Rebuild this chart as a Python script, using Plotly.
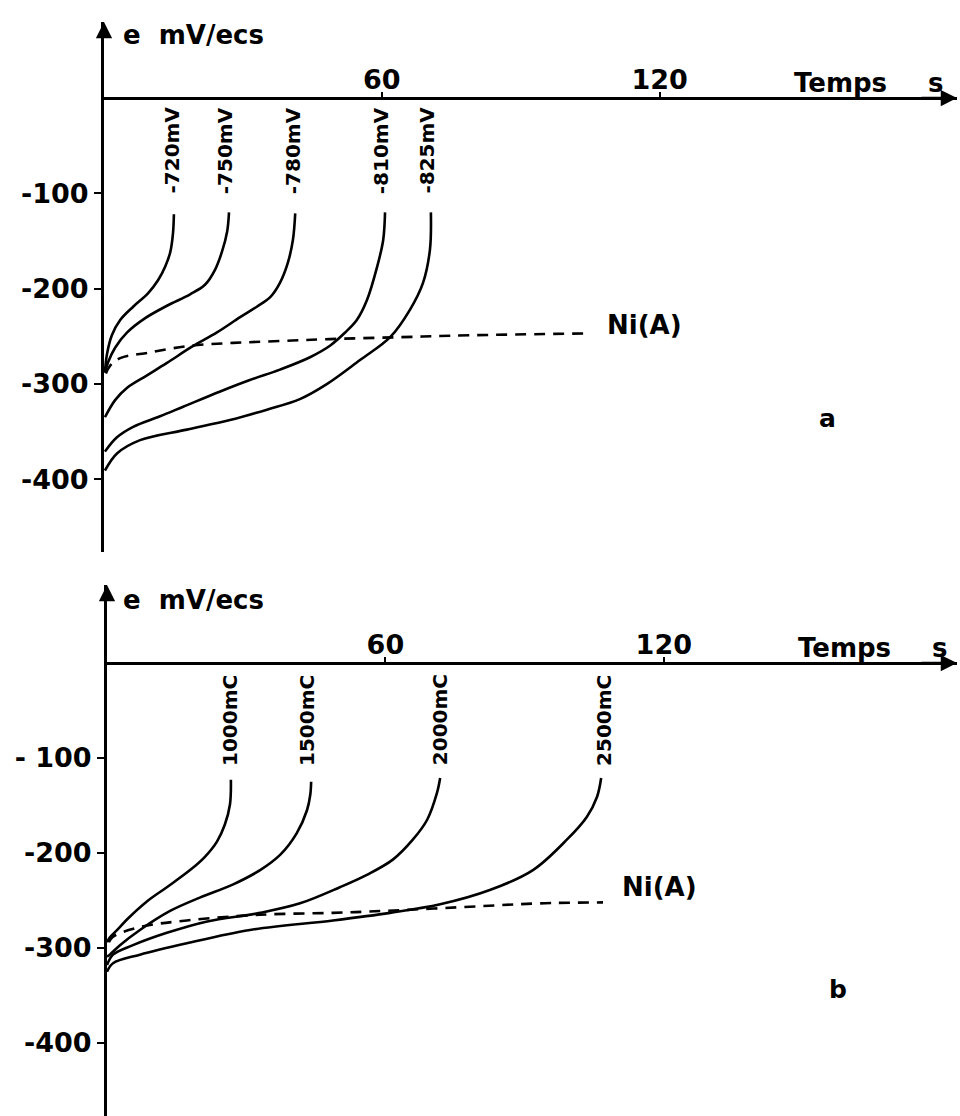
import plotly.graph_objects as go

W, H = 960, 1116

# ---------------- Data: panel a (potentiostatic, mV) ----------------
t_720 = [0.2, 0.6, 1.7, 3.5, 6.3, 9.5, 11.7, 13.2, 14.3, 14.9, 15.1]
e_720 = [-288, -270, -249, -233, -219, -205, -191, -177, -162, -142, -122]

t_750 = [0.2, 0.9, 2.4, 5.0, 8.9, 13.6, 18.6, 21.8, 24.0, 25.5, 26.6, 27.0]
e_750 = [-288, -277, -262, -246, -231, -218, -206, -196, -180, -161, -140, -120]

t_780 = [0.2, 2.4, 5.0, 9.3, 13.6, 19.0, 24.4, 29.4, 33.0, 35.9, 38.0, 39.7, 40.8, 41.3]
e_780 = [-335, -317, -304, -291, -278, -261, -246, -230, -219, -209, -194, -173, -149, -121]

t_810 = [0.2, 2.8, 6.3, 12.1, 17.1, 25.1, 31.5, 38.0, 44.5, 48.8, 52.1, 54.6, 56.8, 59.0, 60.3, 60.7]
e_810 = [-371, -356, -345, -334, -324, -308, -296, -285, -272, -260, -246, -233, -212, -177, -149, -120]

t_825 = [0.2, 2.8, 7.8, 17.9, 27.2, 35.2, 42.3, 48.2, 55.3, 61.8, 66.1, 68.9, 70.4, 70.6]
e_825 = [-391, -373, -359, -348, -338, -327, -316, -300, -275, -251, -222, -194, -159, -120]

t_ni_a = [0.4, 1.3, 3.5, 9.9, 18.6, 27.9, 38.0, 48.8, 63.9, 79.0, 104.9]
e_ni_a = [-289, -281, -273, -267, -260, -257, -255, -253, -251, -249, -247]

labels_a = ["-720mV", "-750mV", "-780mV", "-810mV", "-825mV"]
label_t_a = [14.7, 26.3, 41.0, 60.0, 69.8]
label_e_a = -55

# ---------------- Data: panel b (charge, mC) ----------------
t_1000 = [0, 0.6, 2.2, 4.3, 8.6, 12.9, 17.9, 21.1, 23.7, 25.4, 26.5, 26.7]
e_1000 = [-294, -289, -281, -270, -251, -236, -218, -204, -188, -170, -149, -123]

t_1500 = [0, 0.6, 2.8, 7.1, 13.6, 20.0, 27.2, 33.0, 37.3, 40.9, 43.1, 43.8, 44.0]
e_1500 = [-309, -307, -297, -281, -261, -247, -233, -218, -202, -179, -155, -139, -125]

t_2000 = [0, 1.3, 5.6, 12.9, 21.6, 33.0, 41.6, 50.2, 56.0, 61.6, 65.9, 69.0, 71.1, 71.8]
e_2000 = [-318, -307, -297, -284, -272, -263, -253, -236, -223, -207, -186, -165, -137, -121]

t_2500 = [0, 1.3, 7.1, 17.2, 30.8, 48.7, 61.0, 71.8, 82.5, 91.8, 99.1, 103.4, 105.6, 106.5]
e_2500 = [-325, -316, -307, -295, -281, -271, -263, -254, -239, -218, -186, -162, -141, -121]

t_ni_b = [0.4, 1.3, 7.1, 17.2, 33.0, 48.7, 59.5, 80.4, 93.3, 106.9]
e_ni_b = [-294, -288, -278, -271, -265, -263, -261, -256, -253, -252]

labels_b = ["1000mC", "1500mC", "2000mC", "2500mC"]
label_t_b = [26.5, 43.1, 71.8, 107.1]
label_e_b = -60

x_ticks = [60, 120]
x_ticktext = ["60", "120"]
y_ticks = [-100, -200, -300, -400]
y_ticktext_a = ["-100", "-200", "-300", "-400"]
y_ticktext_b = ["- 100", "-200", "-300", "-400"]

# ---------------- Layout geometry (pixels) ----------------
PANELS = {
    "a": dict(x0=104, sx=4.63, y0=98, sy=0.953, top=22, bottom=552, right=957,
              title_y=35, letter="a", letter_pos=(156.2, -336), ni_pos=(116.8, -238)),
    "b": dict(x0=107, sx=4.64, y0=663, sy=0.95, top=585, bottom=1116, right=957,
              title_y=600, letter="b", letter_pos=(157.5, -344), ni_pos=(119.0, -236)),
}

FONT = "DejaVu Sans"
BIG = dict(family=FONT, size=26, color="black", weight="bold")
TICK = dict(family=FONT, size=27, color="black", weight="bold")
SMALL = dict(family=FONT, size=20, color="black", weight="bold")
LETTER = dict(family=FONT, size=25, color="black", weight="bold")

fig = go.Figure()


def line(t, e, xa, ya, dash=None):
    fig.add_trace(go.Scatter(
        x=t, y=e, mode="lines", xaxis=xa, yaxis=ya,
        line=dict(color="black", width=2.6, shape="spline", smoothing=1.0, dash=dash),
        hoverinfo="skip", showlegend=False))


for t, e in [(t_720, e_720), (t_750, e_750), (t_780, e_780), (t_810, e_810), (t_825, e_825)]:
    line(t, e, "x", "y")
line(t_ni_a, e_ni_a, "x", "y", dash="11px,8px")

for t, e in [(t_1000, e_1000), (t_1500, e_1500), (t_2000, e_2000), (t_2500, e_2500)]:
    line(t, e, "x2", "y2")
line(t_ni_b, e_ni_b, "x2", "y2", dash="11px,8px")

layout = dict(width=W, height=H, margin=dict(l=0, r=0, t=0, b=0),
              paper_bgcolor="white", plot_bgcolor="white", showlegend=False)
annotations = []

for key, (xn, yn, yticktext) in {"a": ("xaxis", "yaxis", y_ticktext_a),
                                  "b": ("xaxis2", "yaxis2", y_ticktext_b)}.items():
    p = PANELS[key]
    xr = [0, (p["right"] - p["x0"]) / p["sx"]]
    yr = [-(p["bottom"] - p["y0"]) / p["sy"], (p["y0"] - p["top"]) / p["sy"]]
    xref = "x" if key == "a" else "x2"
    yref = "y" if key == "a" else "y2"
    layout[xn] = dict(domain=[p["x0"] / W, p["right"] / W], range=xr,
                      anchor="free", position=1 - p["y0"] / H, side="top",
                      showline=True, linewidth=3, linecolor="black",
                      ticks="outside", ticklen=5, tickwidth=2, tickcolor="black",
                      ticklabelstandoff=-8,
                      tickvals=x_ticks, ticktext=x_ticktext, tickfont=TICK,
                      showgrid=False, zeroline=False, fixedrange=True)
    layout[yn] = dict(domain=[1 - p["bottom"] / H, 1 - p["top"] / H], range=yr,
                      anchor=xref, showline=True, linewidth=3, linecolor="black",
                      ticks="outside", ticklen=7, tickwidth=2, tickcolor="black",
                      tickvals=y_ticks, ticktext=yticktext, tickfont=TICK,
                      showgrid=False, zeroline=False, fixedrange=True)
    # axis arrows
    annotations.append(dict(x=xr[1], y=0, ax=xr[1] - 8, ay=0, xref=xref, yref=yref,
                            axref=xref, ayref=yref, text="", showarrow=True,
                            arrowhead=2, arrowsize=1.3, arrowwidth=2.5, arrowcolor="black"))
    annotations.append(dict(x=0, y=yr[1], ax=0, ay=yr[1] - 10, xref=xref, yref=yref,
                            axref=xref, ayref=yref, text="", showarrow=True,
                            arrowhead=2, arrowsize=1.3, arrowwidth=2.5, arrowcolor="black"))
    # axis titles
    annotations.append(dict(x=(121 - p["x0"]) / p["sx"],
                            y=(p["y0"] - p["title_y"]) / p["sy"],
                            xref=xref, yref=yref, text="e  mV/ecs", showarrow=False,
                            xanchor="left", yanchor="middle", font=BIG))
    annotations.append(dict(x=159, y=16, xref=xref, yref=yref, text="Temps",
                            showarrow=False, xanchor="center", yanchor="middle", font=BIG))
    annotations.append(dict(x=179.5, y=16, xref=xref, yref=yref, text="s",
                            showarrow=False, xanchor="center", yanchor="middle", font=BIG))
    annotations.append(dict(x=p["ni_pos"][0], y=p["ni_pos"][1], xref=xref, yref=yref,
                            text="Ni(A)", showarrow=False, xanchor="center",
                            yanchor="middle", font=BIG))
    annotations.append(dict(x=p["letter_pos"][0], y=p["letter_pos"][1], xref=xref, yref=yref,
                            text=p["letter"], showarrow=False, xanchor="center",
                            yanchor="middle", font=LETTER))

# curve labels
for txt, tx in zip(labels_a, label_t_a):
    annotations.append(dict(x=tx, y=label_e_a, xref="x", yref="y", text=txt, textangle=-90,
                            showarrow=False, xanchor="center", yanchor="middle", font=SMALL))
for txt, tx in zip(labels_b, label_t_b):
    annotations.append(dict(x=tx, y=label_e_b, xref="x2", yref="y2", text=txt, textangle=-90,
                            showarrow=False, xanchor="center", yanchor="middle", font=SMALL))

layout["annotations"] = annotations
fig.update_layout(**layout)
fig.write_html("out.html")
